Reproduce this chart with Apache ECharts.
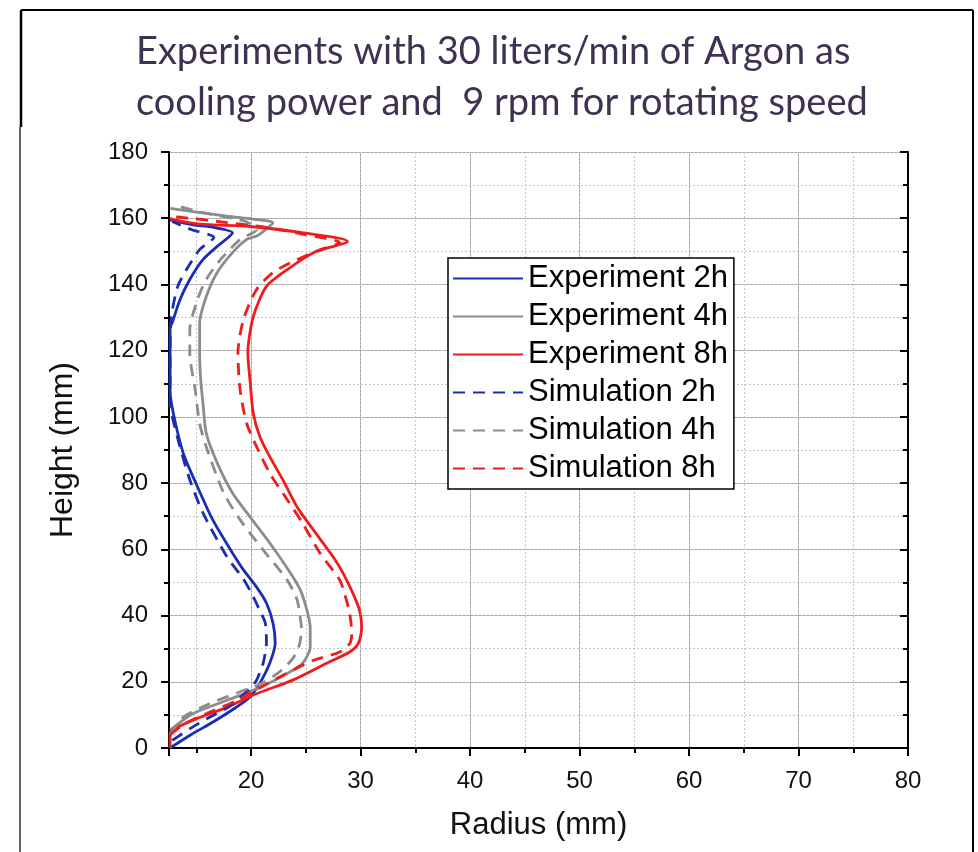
<!DOCTYPE html>
<html>
<head>
<meta charset="utf-8">
<script src="https://cdn.jsdelivr.net/npm/echarts@6/dist/echarts.min.js"></script>
<style>
  html, body { margin: 0; padding: 0; background: #fff; }
  #chart { width: 978px; height: 852px; }
</style>
</head>
<body>
<div id="chart"></div>
<script>
// [radius mm, height mm], bottom to top
const exp2h = [[12.6,0],[14.5,4],[16.6,8],[18.5,12],[19.9,15.4],[20.8,19.6],[21.7,25.6],[22.2,31.7],[22.0,37.7],[21.4,43.8],[20.5,48.6],[19.3,53.8],[18.3,58.9],[16.5,68.9],[15.1,78.9],[13.8,89],[12.9,101],[12.6,108],[12.6,118],[12.6,127],[12.8,128.5],[13.5,135.4],[14.4,141.5],[15.6,147.5],[16.9,151.5],[18.3,155.6],[16.5,157.3],[14.7,158],[12.6,159.5]];
const exp4h = [[12.6,5.4],[14.7,10.4],[17.8,14.4],[20.8,18.3],[23.3,22.5],[24.7,25.6],[25.4,30.5],[25.4,36.5],[25.1,41.6],[24.5,47.7],[23.6,52.8],[21.7,61.9],[19.9,69.8],[18.3,77],[16.9,86.1],[15.9,95.1],[15.6,104.2],[15.4,111],[15.3,119.3],[15.3,128.4],[15.9,136.3],[16.9,143.6],[18.3,149.6],[19.6,153.6],[20.5,154.6],[21.3,156.5],[22.0,158.6],[19.5,160],[17.8,160.6],[14.7,162],[12.6,163]];
const exp8h = [[12.6,0],[12.6,4.4],[14.7,8.4],[17.8,12.3],[20.2,16],[23.8,20.5],[26.9,25.6],[29.0,29],[29.8,31.6],[30.1,36.5],[29.9,41.6],[29.3,46.7],[28.4,52.8],[27.5,57.7],[25.7,65.8],[24.2,72.8],[22.9,81],[21.7,88],[20.8,94],[20.2,101],[19.9,111],[19.7,119.3],[20.2,130.3],[21.4,139.4],[23.3,144.5],[25.7,149.6],[28.8,153],[24.5,155.7],[19.9,157.5],[15.3,158.2],[12.9,159.6],[12.6,160]];
const sim2h = [[12.8,2.3],[14.5,6],[16.2,9.3],[18.0,12.5],[19.9,18],[20.5,20.5],[21.1,25.6],[21.4,31.7],[21.3,37.7],[20.8,41.5],[20.0,47],[19.2,51.5],[17.8,57.7],[15.6,71],[14.4,81],[13.5,91],[12.8,100],[12.6,103],[12.6,118],[12.7,130],[13.3,139.4],[14.1,144.5],[15.3,150.5],[16.6,154.2],[14.6,156.5],[12.8,159]];
const sim4h = [[12.6,4],[13.8,9.3],[16.2,13.4],[19.0,17],[21.0,19.6],[22.6,23],[23.8,27],[24.4,31],[24.6,36],[24.5,39],[24.2,44.7],[23.3,50.7],[21.1,59.8],[19.0,68.9],[17.5,77],[15.9,91],[15.3,98],[14.9,108],[14.4,119.3],[14.4,126.3],[15.1,135.4],[15.9,141.5],[17.2,147.5],[19.0,153.6],[20.5,156.5],[19.5,159],[15.6,161.7],[12.9,164]];
const sim8h = [[12.6,4],[14.0,7.5],[16.0,10.5],[18.7,14.4],[21.5,19.5],[23.8,23.5],[25.7,26.5],[28.1,29],[29.0,31.5],[29.2,34.6],[29.0,40.7],[28.7,44.7],[28.1,50.7],[26.3,58.8],[24.7,67.9],[23.3,75],[21.7,83],[20.5,91],[19.6,98],[19.0,108],[18.8,119.3],[19.3,129.4],[20.5,138.5],[22.0,143.6],[24.2,147.5],[26.3,150.5],[28.1,152.6],[25.0,155],[21.4,157.2],[17.8,158.7],[13.8,160.2],[12.6,160.5]];

const seriesNames = ['Experiment 2h', 'Experiment 4h', 'Experiment 8h', 'Simulation 2h', 'Simulation 4h', 'Simulation 8h'];
const seriesData = [exp2h, exp4h, exp8h, sim2h, sim4h, sim8h];
const seriesColors = ['#1b2db3', '#8c8c8c', '#f01c1c', '#1b2db3', '#8c8c8c', '#f01c1c'];
const seriesDashed = [false, false, false, true, true, true];

const titleText = 'Experiments with 30 liters/min of Argon as\ncooling power and  9 rpm for rotating speed';

const axisFont = 'Liberation Sans, Arial, sans-serif';

const chart = echarts.init(document.getElementById('chart'), null, { renderer: 'canvas' });

// shared bits for the frame axes
const minorSplit = { show: true, lineStyle: { color: '#c4c4c4', width: 1, type: [2, 2] } };
const majorSplit = { show: true, lineStyle: { color: '#a4a4a4', width: 1 } };
const blackLine = { show: true, lineStyle: { color: '#000', width: 2 } };

chart.setOption({
  animation: false,
  backgroundColor: '#fff',
  title: {
    text: titleText,
    left: 131,
    top: 21,
    textStyle: {
      fontFamily: 'Lato, sans-serif',
      fontWeight: 'normal',
      fontSize: 38,
      lineHeight: 51,
      color: '#3f3151'
    }
  },
  graphic: [
    // page frame
    { type: 'line', shape: { x1: 21, y1: 10, x2: 973, y2: 10 }, style: { stroke: '#000', lineWidth: 2 } },
    { type: 'line', shape: { x1: 973, y1: 10, x2: 973, y2: 852 }, style: { stroke: '#000', lineWidth: 2 } },
    { type: 'line', shape: { x1: 21, y1: 10, x2: 21, y2: 127 }, style: { stroke: '#000', lineWidth: 2.5 } },
    { type: 'line', shape: { x1: 20, y1: 127, x2: 20, y2: 852 }, style: { stroke: '#666', lineWidth: 2 } }
  ],
  grid: {
    left: 169,
    top: 152,
    width: 739,
    height: 596,
    containLabel: false
  },
  legend: {
    orient: 'vertical',
    left: 448,
    top: 258,
    data: seriesNames,
    backgroundColor: '#fff',
    borderColor: '#000',
    borderWidth: 1.5,
    borderRadius: 0,
    padding: [5, 6, 5, 4],
    itemWidth: 70,
    itemHeight: 14,
    itemGap: 7,
    itemStyle: { opacity: 0 },
    textStyle: { fontFamily: axisFont, fontSize: 31, lineHeight: 31, color: '#000' }
  },
  xAxis: [
    {
      type: 'value', position: 'bottom', min: 12.5, max: 80, splitNumber: 7,
      axisLine: blackLine,
      axisTick: { show: true, inside: false, length: 8, lineStyle: { color: '#000', width: 2 } },
      axisLabel: { showMinLabel: false, margin: 21, fontFamily: axisFont, fontSize: 24, color: '#111' },
      splitLine: majorSplit,
      name: 'Radius (mm)', nameLocation: 'middle', nameGap: 62,
      nameTextStyle: { fontFamily: axisFont, fontSize: 31, color: '#111' }
    },
    {
      // minor ticks / dotted grid every 5 mm
      type: 'value', position: 'bottom', min: 12.5, max: 80, splitNumber: 14,
      axisLine: { show: false },
      axisTick: { show: true, inside: false, length: 5, lineStyle: { color: '#000', width: 2 } },
      axisLabel: { show: false },
      splitLine: minorSplit
    },
    {
      type: 'value', position: 'top', min: 12.5, max: 80, splitNumber: 7,
      axisLine: blackLine,
      axisTick: { show: true, inside: true, length: 8, lineStyle: { color: '#000', width: 2 } },
      axisLabel: { show: false },
      splitLine: { show: false }
    },
    {
      type: 'value', position: 'top', min: 12.5, max: 80, splitNumber: 14,
      axisLine: { show: false },
      axisTick: { show: true, inside: true, length: 5, lineStyle: { color: '#000', width: 2 } },
      axisLabel: { show: false },
      splitLine: { show: false }
    }
  ],
  yAxis: [
    {
      type: 'value', position: 'left', min: 0, max: 180, interval: 20,
      axisLine: blackLine,
      axisTick: { show: true, inside: false, length: 8, lineStyle: { color: '#000', width: 2 } },
      axisLabel: { margin: 21, fontFamily: axisFont, fontSize: 24, color: '#111' },
      splitLine: majorSplit,
      name: 'Height (mm)', nameLocation: 'middle', nameGap: 90, nameRotate: 90,
      nameTextStyle: { fontFamily: axisFont, fontSize: 32, color: '#111' }
    },
    {
      type: 'value', position: 'left', min: 0, max: 180, interval: 10,
      axisLine: { show: false },
      axisTick: { show: true, inside: false, length: 5, lineStyle: { color: '#000', width: 2 } },
      axisLabel: { show: false },
      splitLine: minorSplit
    },
    {
      type: 'value', position: 'right', min: 0, max: 180, interval: 20,
      axisLine: blackLine,
      axisTick: { show: true, inside: true, length: 8, lineStyle: { color: '#000', width: 2 } },
      axisLabel: { show: false },
      splitLine: { show: false }
    },
    {
      type: 'value', position: 'right', min: 0, max: 180, interval: 10,
      axisLine: { show: false },
      axisTick: { show: true, inside: true, length: 5, lineStyle: { color: '#000', width: 2 } },
      axisLabel: { show: false },
      splitLine: { show: false }
    }
  ],
  series: seriesNames.map((name, i) => ({
    name: name,
    type: 'line',
    xAxisIndex: 0,
    yAxisIndex: 0,
    data: seriesData[i],
    smooth: 0.25,
    symbol: 'none',
    color: seriesColors[i],
    lineStyle: {
      color: seriesColors[i],
      width: 2.8,
      type: seriesDashed[i] ? [12, 8] : 'solid'
    },
    z: seriesDashed[i] ? 3 : 2
  }))
});
</script>
</body>
</html>
